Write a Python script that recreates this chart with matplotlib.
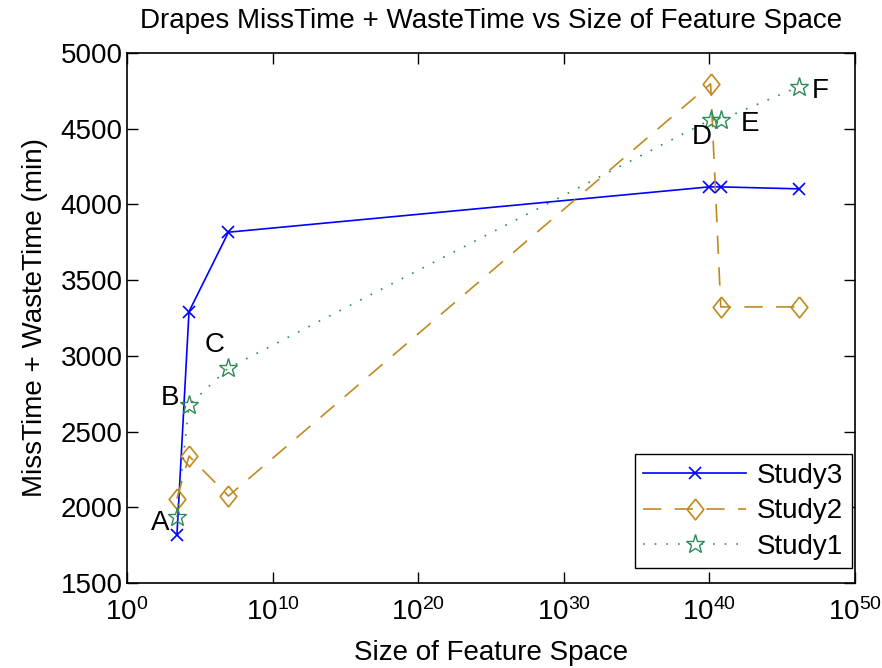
#!/usr/bin/env python3
import matplotlib
matplotlib.use("Agg")
import matplotlib.pyplot as plt

plt.rcParams["font.family"] = ["Liberation Sans", "DejaVu Sans"]
plt.rcParams["mathtext.fontset"] = "custom"
plt.rcParams["mathtext.rm"] = "Liberation Sans"
plt.rcParams["mathtext.it"] = "Liberation Sans"

# feature space sizes (log10) and MissTime + WasteTime (min)
study3_logx = [3.43, 4.26, 6.97, 40.0, 40.8, 46.2]
study3_y = [1817, 3292, 3816, 4115, 4115, 4102]
study2_logx = [3.43, 4.26, 6.97, 40.1, 40.8, 46.2]
study2_y = [2058, 2339, 2075, 4795, 3323, 3323]
study1_logx = [3.43, 4.26, 6.97, 40.1, 40.8, 46.2]
study1_y = [1936, 2675, 2920, 4558, 4558, 4777]

point_labels = ["A", "B", "C", "D", "E", "F"]
label_logx = [2.27, 2.92, 6.04, 39.46, 42.8, 47.66]
label_y = [1896, 2722, 3072, 4442, 4531, 4749]

xtick_exp = [0, 10, 20, 30, 40, 50]
yticks = [1500, 2000, 2500, 3000, 3500, 4000, 4500, 5000]

BLUE = "#0000ff"
GOLD = "#c08a1e"
GREEN = "#2e8b57"
FS = 20

# MATLAB-style diamond: a bit taller than wide
diamond = [(0, 1), (0.8, 0), (0, -1), (-0.8, 0), (0, 1)]

fig = plt.figure(figsize=(8.82, 6.68), dpi=100)
ax = fig.add_axes([0.144, 0.127, 0.825, 0.794])

ax.plot([10 ** v for v in study3_logx], study3_y, color=BLUE, lw=1.2,
        marker="x", ms=9, mew=1.2, label="Study3")
ax.plot([10 ** v for v in study2_logx], study2_y, color=GOLD, lw=1.2,
        dashes=(11, 8), marker=diamond, ms=15, mfc="none", mew=1.2, label="Study2")
ax.plot([10 ** v for v in study1_logx], study1_y, color=GREEN, lw=1.2,
        dashes=(1, 6), marker="*", ms=14, mfc="none", mew=1.0, label="Study1")

for lab, lx, ly in zip(point_labels, label_logx, label_y):
    ax.text(10 ** lx, ly, lab, fontsize=FS, ha="center", va="center")

ax.set_xscale("log")
ax.set_xlim(1, 1e50)
ax.set_ylim(1500, 5000)
ax.set_xticks([10.0 ** e for e in xtick_exp])
ax.set_xticklabels([f"$10^{{{e}}}$" for e in xtick_exp])
ax.minorticks_off()
ax.set_yticks(yticks)
ax.tick_params(direction="in", length=8, width=1, top=True, right=True,
               labelsize=FS)
ax.tick_params(axis="x", pad=11)
ax.tick_params(axis="y", pad=3)
for s in ax.spines.values():
    s.set_linewidth(1.2)

ax.set_title("Drapes MissTime + WasteTime vs Size of Feature Space",
             fontsize=FS, pad=18)
ax.set_xlabel("Size of Feature Space", fontsize=FS, labelpad=10)
ax.set_ylabel("MissTime + WasteTime (min)", fontsize=FS, labelpad=9)

leg = ax.legend(loc="lower right", bbox_to_anchor=(0.996, 0.028),
                fontsize=FS, fancybox=False, edgecolor="black", framealpha=1,
                handlelength=3.7, handletextpad=0.4, borderaxespad=0,
                labelspacing=0.35, borderpad=0.3)
leg.get_frame().set_linewidth(1.0)

fig.savefig("out.png", dpi=100)
